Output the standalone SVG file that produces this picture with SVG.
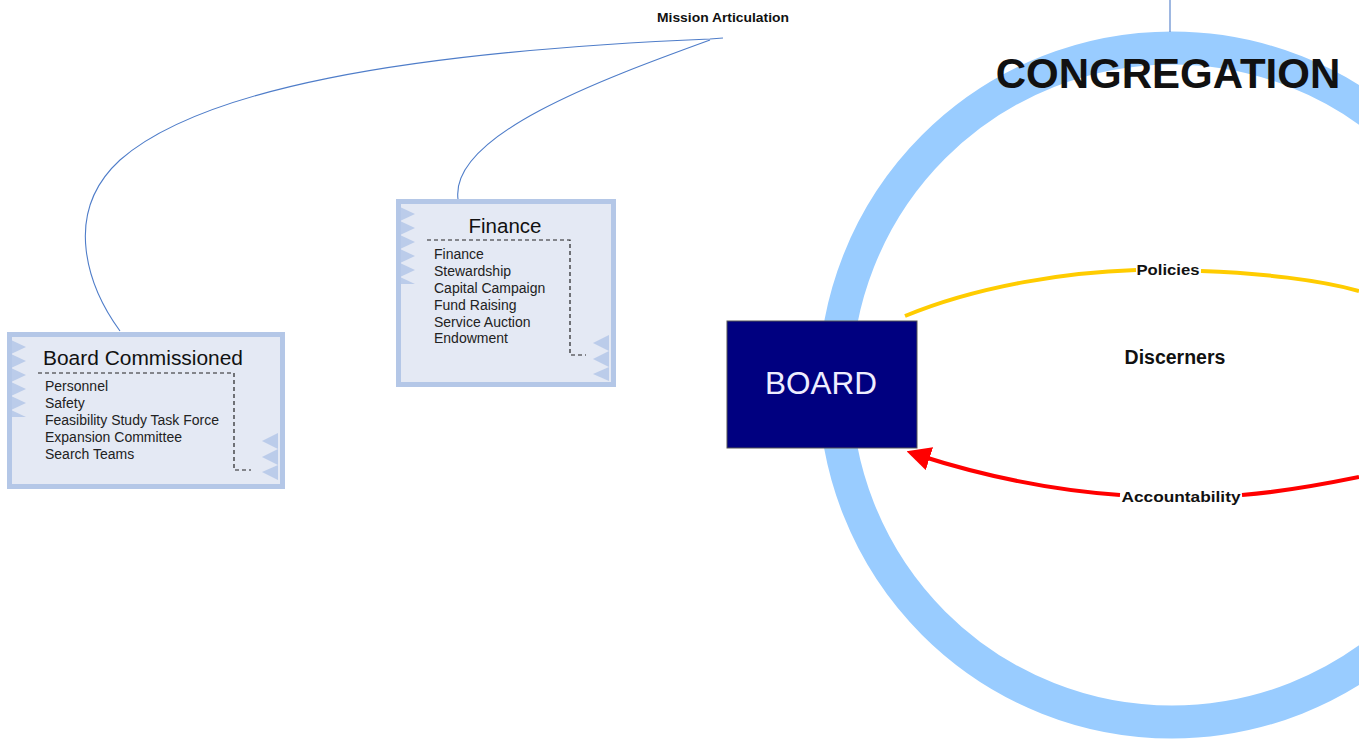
<svg xmlns="http://www.w3.org/2000/svg" width="1359" height="740" viewBox="0 0 1359 740">
<style>
.frame{fill:#e4e9f4;stroke:#b4c7e7;stroke-width:5}
.tri{fill:#b4c7e7;opacity:0.85}
.dash{fill:none;stroke:#222;stroke-width:1.2;stroke-dasharray:4,3}
.title{font-family:"Liberation Sans",Arial,sans-serif;font-size:20.5px;fill:#111}
.item{font-family:"Liberation Sans",Arial,sans-serif;font-size:14px;fill:#222}
.conn{fill:none;stroke:#4f7dc9;stroke-width:1.1}
.lbl{font-family:"Liberation Sans",Arial,sans-serif;font-weight:bold;fill:#111}
</style>
<defs>
<marker id="arrowRed" markerWidth="6" markerHeight="6" refX="3" refY="3" orient="auto" markerUnits="strokeWidth">
<path d="M0,0 L6,3 L0,6 z" fill="#ff0000"/>
</marker>
</defs>
<rect width="1359" height="740" fill="#fff"/>
<g id="congregation">
<circle cx="1172" cy="385" r="337" fill="none" stroke="#99ccff" stroke-width="33"/>
<text x="1168" y="88" text-anchor="middle" class="lbl" font-size="42">CONGREGATION</text>
<text x="1175" y="364" text-anchor="middle" class="lbl" font-size="19.5">Discerners</text>
</g>
<g id="connectors">
<path class="conn" d="M1170,0 L1170,32"/>
<path class="conn" d="M723,38 L710,39 C400,52 200,90 120,160 C60,215 90,290 120,331"/>
<path class="conn" d="M710,40 C600,80 450,135 458,199"/>
<path d="M905,316 C980,285 1070,272 1136,270 M1201,271 C1260,273 1320,280 1359,291" fill="none" stroke="#ffcc00" stroke-width="4"/>
<path d="M1359,477 C1320,485 1280,492 1242,495 M1120,495 C1050,490 980,475 918,455" fill="none" stroke="#ff0000" stroke-width="4" marker-end="url(#arrowRed)"/>
<text x="1168" y="275" text-anchor="middle" class="lbl" font-size="15.5" textLength="63" lengthAdjust="spacingAndGlyphs">Policies</text>
<text x="1181" y="502" text-anchor="middle" class="lbl" font-size="15.5" textLength="119" lengthAdjust="spacingAndGlyphs">Accountability</text>
<text x="723" y="22" text-anchor="middle" class="lbl" font-size="13" textLength="132" lengthAdjust="spacingAndGlyphs">Mission Articulation</text>
</g>
<g id="board">
<rect x="727" y="321" width="190" height="127" fill="#000080" stroke="#555" stroke-width="1"/>
<text x="821" y="394" text-anchor="middle" font-family="Liberation Sans,Arial,sans-serif" font-size="31.5" fill="#eef">BOARD</text>
</g>
<g id="board-commissioned">
<rect class="frame" x="9.5" y="334.5" width="273" height="152"/>
<path class="tri" d="M11,340 L26,347 L11,354 L26,361 L11,368 L26,375 L11,382 L26,389 L11,396 L26,403 L11,410 L26,417 L11,417 z"/>
<path class="tri" d="M278,433 L262,441 L278,449 L262,457 L278,465 L262,472 L278,480 z"/>
<text class="title" x="43" y="365" textLength="200" lengthAdjust="spacingAndGlyphs">Board Commissioned</text>
<path class="dash" d="M38,373 L234,373 L234,470 L251,470"/>
<text class="item" x="45" y="391">Personnel</text>
<text class="item" x="45" y="408">Safety</text>
<text class="item" x="45" y="425">Feasibility Study Task Force</text>
<text class="item" x="45" y="442">Expansion Committee</text>
<text class="item" x="45" y="459">Search Teams</text>
</g>
<g id="finance">
<rect class="frame" x="398.5" y="201.5" width="215" height="183"/>
<path class="tri" d="M400,207 L415,214 L400,221 L415,228 L400,235 L415,242 L400,249 L415,256 L400,263 L415,270 L400,277 L415,284 L400,284 z"/>
<path class="tri" d="M609,335 L593,343 L609,351 L593,359 L609,367 L593,374 L609,381 z"/>
<text class="title" x="505" y="233" text-anchor="middle">Finance</text>
<path class="dash" d="M427,240 L570,240 L570,355 L586,355"/>
<text class="item" x="434" y="259">Finance</text>
<text class="item" x="434" y="276">Stewardship</text>
<text class="item" x="434" y="293">Capital Campaign</text>
<text class="item" x="434" y="310">Fund Raising</text>
<text class="item" x="434" y="327">Service Auction</text>
<text class="item" x="434" y="343">Endowment</text>
</g>
</svg>
